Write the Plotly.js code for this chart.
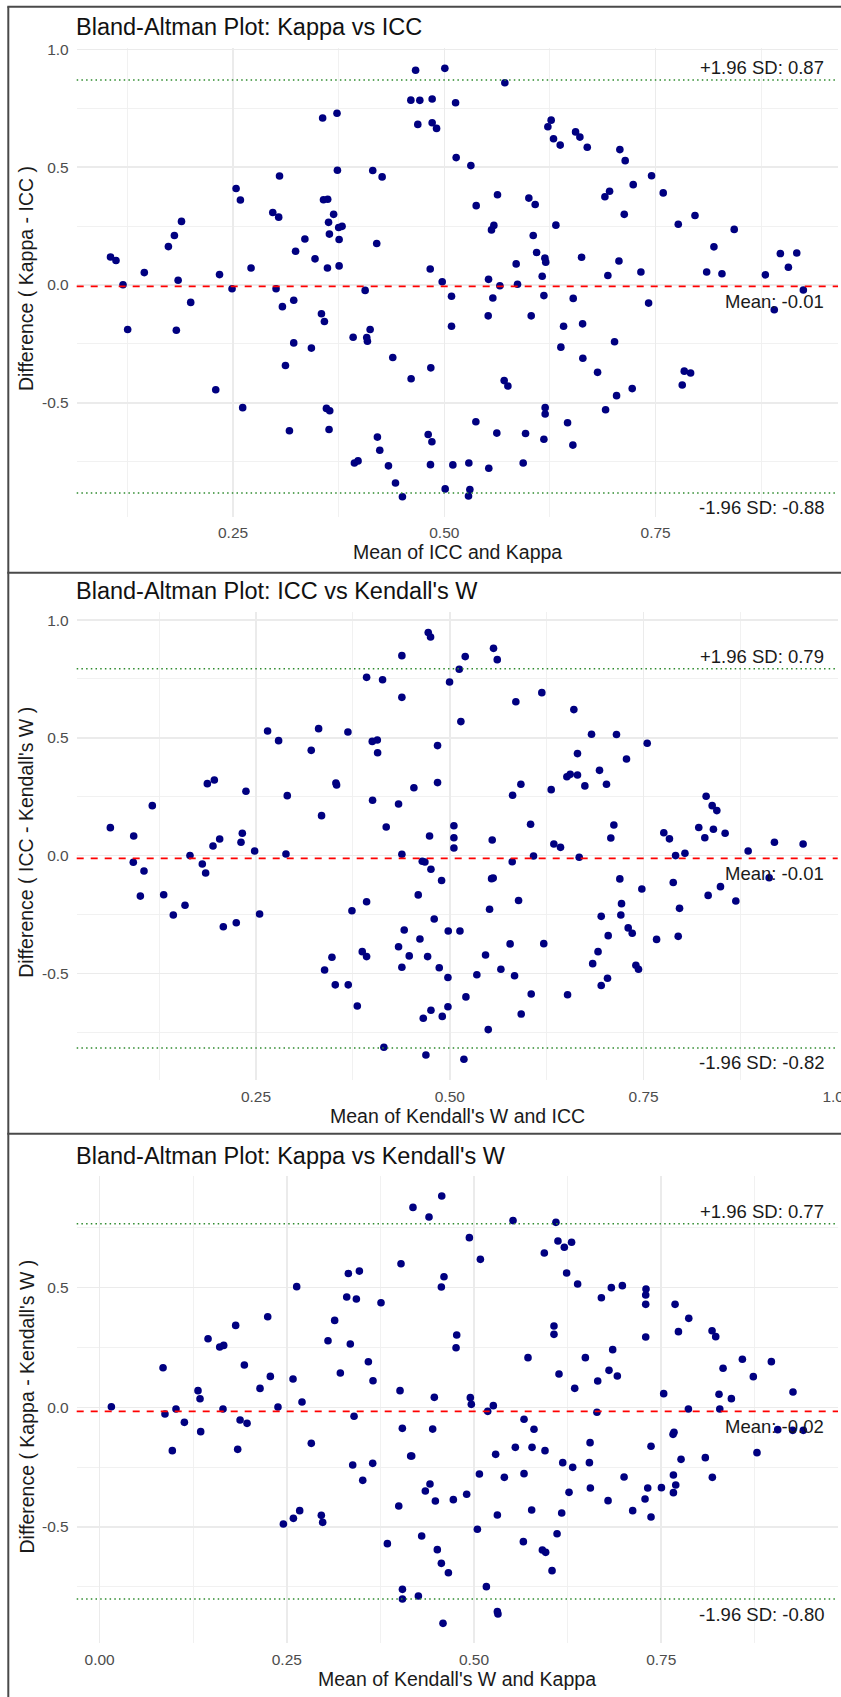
<!DOCTYPE html>
<html><head><meta charset="utf-8">
<script src="https://cdn.plot.ly/plotly-3.0.1.min.js"></script>
<style>html,body{margin:0;padding:0;background:#fff;}#chart{width:841px;height:1697px;}</style>
</head><body><div id="chart"></div>
<script>
// ---------- data ----------
const p1Mean = [0.105,0.1115,0.145,0.1735,0.1806,0.189,0.185,0.234,0.2536,0.2587,0.2713,0.297,0.304,0.305,0.324,0.335,0.347,0.356,0.357,0.362,0.369,0.363,0.375,0.379,0.364,0.3755,0.3617,0.3755,0.373,0.3735,0.4153,0.4264,0.420,
0.466,0.5006,0.5716,0.4604,0.471,0.4856,0.5133,0.4686,0.4856,0.4908,0.514,0.5314,0.5377,0.5629,0.5558,0.5586,0.4833,0.4975,0.5523,0.5657,0.5866,0.585,0.600,0.6075,0.6052,0.6092,0.619,0.620,0.6158,0.6225,0.6264,0.6292,0.6371,0.632,0.6553,0.6604,0.6691,0.6624,0.690,0.6955,0.6935,0.7077,0.714,0.7129,0.7066,0.7235,0.7326,0.7452,0.759,0.7768,0.7966,0.8104,0.819,0.8285,0.843,0.8798,0.8976,0.9071,0.917,0.9248,
0.5085,0.5085,0.5574,0.5519,0.6178,0.6028,0.6525,0.6411,0.6636,0.6379,0.6639,0.7014,0.6813,0.7417,0.7038,0.7223,0.6908,0.7839,0.7914,0.7815,0.8904,0.484,0.4607,0.5708,0.5752,0.6193,0.6193,0.5373,0.6458,0.4809,0.4853,0.5621,0.5961,0.6178,0.6521,0.4836,0.5101,0.529,0.5526,0.5933,0.501,0.5302,0.5286,
0.1198,0.1253,0.1999,0.1829,0.2488,0.3009,0.3084,0.3218,0.2295,0.2614,0.3546,0.3581,0.3218,0.3427,0.312,0.3167,0.3605,0.3644,0.3636,0.4063,0.3921,0.4122,0.4082,0.409,0.439,0.4208,0.4236,0.3936,0.3979,0.4339,0.4422,0.4504];
const p1Diff = [0.119,0.104,0.0525,0.163,0.210,0.270,0.020,0.044,0.410,0.361,0.072,0.308,0.288,0.463,0.143,0.195,0.111,0.709,0.362,0.364,0.300,0.266,0.244,0.249,0.216,0.193,0.072,0.081,0.729,0.487,0.486,0.459,0.176,
0.912,0.920,0.859,0.785,0.784,0.790,0.774,0.682,0.689,0.665,0.541,0.507,0.337,0.383,0.234,0.253,0.068,0.014,0.024,-0.003,0.003,0.0895,0.369,0.342,0.210,0.138,0.114,0.097,0.037,0.672,0.700,0.621,0.594,0.254,0.650,0.628,0.585,0.118,0.375,0.398,0.040,0.575,0.528,0.300,0.102,0.426,0.055,0.464,0.391,0.258,0.295,0.055,0.162,0.048,0.236,0.043,0.1335,0.075,0.136,-0.021,
-0.048,-0.175,-0.055,-0.131,-0.045,-0.131,-0.057,-0.175,-0.165,-0.264,-0.311,-0.241,-0.371,-0.077,-0.470,-0.440,-0.530,-0.366,-0.374,-0.425,-0.105,-0.352,-0.398,-0.406,-0.429,-0.521,-0.548,-0.581,-0.585,-0.635,-0.666,-0.629,-0.631,-0.655,-0.680,-0.763,-0.764,-0.756,-0.778,-0.756,-0.866,-0.869,-0.896,
0.001,-0.189,-0.074,-0.192,-0.016,-0.016,-0.092,-0.065,-0.445,-0.521,-0.122,-0.155,-0.246,-0.268,-0.342,-0.619,-0.524,-0.534,-0.614,-0.023,-0.222,-0.189,-0.223,-0.239,-0.308,-0.646,-0.702,-0.756,-0.747,-0.768,-0.841,-0.899];

const p2Mean = [0.0622,0.0923,0.1163,0.1873,0.1963,0.1946,0.2032,0.2324,0.2307,0.2371,0.265,0.2792,0.2904,0.3213,0.3308,0.3346,0.3531,0.354,0.3686,0.3927,0.4133,0.4382,0.4382,0.400,0.4065,0.4069,0.4004,0.4339,0.418,
0.4722,0.4752,0.5564,0.5612,0.5199,0.5122,0.4997,0.5143,0.4842,0.4842,0.4537,0.5852,0.6187,0.660,0.6828,0.715,0.7546,0.6647,0.7279,0.6931,0.651,0.6553,0.6647,0.6742,0.7021,0.6308,0.5917,0.581,0.6042,0.6342,0.6428,0.5053,0.5053,0.5053,0.4739,0.5547,0.7116,0.7077,0.776,0.7833,0.8306,0.8384,0.8444,0.8211,0.840,0.8289,0.8551,0.9187,0.9557,
0.4645,0.4679,0.4757,0.4894,0.4593,0.4799,0.4615,0.4714,0.4864,0.498,0.5131,0.4976,0.4658,0.4757,0.4903,0.4976,0.4692,0.5182,0.5539,0.556,0.5513,0.5805,0.5887,0.608,0.6669,0.5778,0.6212,0.5461,0.5659,0.5835,0.5349,0.5208,0.605,0.5921,0.5496,0.6519,0.7193,0.7477,0.7215,0.7206,0.6953,0.7043,0.7301,0.7353,0.7667,0.7946,0.7963,0.7882,0.7912,0.8033,0.6912,0.6843,0.740,0.7434,0.7034,0.6953,0.8332,0.8491,0.8689,0.8848,0.9119,
0.1649,0.2483,0.2887,0.4382,0.0918,0.1056,0.1009,0.131,0.1434,0.1585,0.1808,0.1851,0.2079,0.2246,0.2547,0.3385,0.348,0.3523,0.369,0.3807,0.3738,0.3927,0.3871,0.3927,0.415,0.4339,0.4412,0.4382,0.4477];
const p2Diff = [0.1186,0.0832,0.212,0.3055,0.321,0.041,0.0705,0.0946,0.0564,0.273,0.529,0.488,0.2545,0.447,0.539,0.1695,0.308,0.300,0.525,0.757,0.747,0.849,0.672,0.485,0.491,0.437,0.235,0.219,0.1215,
0.947,0.928,0.880,0.832,0.845,0.791,0.737,0.569,0.467,0.310,0.288,0.653,0.692,0.620,0.515,0.514,0.477,0.433,0.410,0.362,0.335,0.345,0.342,0.296,0.303,0.280,0.303,0.256,0.133,0.049,0.035,0.127,0.076,0.032,0.083,0.066,0.130,0.075,0.097,0.071,0.252,0.212,0.191,0.119,0.112,0.076,0.095,0.0564,0.049,
-0.024,-0.027,-0.058,-0.106,-0.167,-0.269,-0.354,-0.429,-0.476,-0.320,-0.320,-0.518,-0.691,-0.657,-0.683,-0.642,-0.847,-0.865,-0.098,-0.095,-0.228,-0.026,-0.191,-0.002,-0.007,-0.375,-0.374,-0.422,-0.483,-0.510,-0.506,-0.600,-0.588,-0.673,-0.739,-0.591,-0.099,-0.142,-0.204,-0.252,-0.258,-0.340,-0.307,-0.330,-0.356,-0.343,-0.224,-0.114,0.000,0.010,-0.408,-0.459,-0.466,-0.483,-0.521,-0.552,-0.169,-0.132,-0.193,0.0195,-0.094,
0.000,0.0195,0.0068,0.0054,-0.0286,-0.0654,-0.172,-0.166,-0.252,-0.211,-0.0357,-0.074,-0.302,-0.285,-0.248,-0.486,-0.432,-0.549,-0.549,-0.639,-0.234,-0.196,-0.408,-0.429,-0.814,-0.387,-0.316,-0.474,-0.426];

const p3Mean = [0.0157,0.0847,0.102,0.1314,0.1341,0.1448,0.1604,0.1657,0.1648,0.1817,0.1933,0.2142,0.2245,0.228,0.2382,0.2583,0.2632,0.2703,0.305,0.3139,0.3215,0.33,0.3429,0.3322,0.3469,0.3348,0.3589,0.3651,0.3758,0.4025,0.4012,
0.4185,0.4399,0.4569,0.4938,0.5085,0.5521,0.6094,0.6121,0.6206,0.6303,0.5939,0.6237,0.6384,0.6701,0.6834,0.6981,0.7297,0.7293,0.7293,0.7685,0.7868,0.773,0.8179,0.8228,0.7293,0.4599,0.4564,0.4769,0.476,0.6068,0.6068,0.5721,0.6487,0.6852,0.6803,0.6914,0.6135,0.6345,0.6652,0.7533,0.8326,0.8584,0.873,0.8971,0.926,0.8272,0.8437,0.447,0.4951,0.4964,0.5258,0.5183,0.6642,0.7863,0.8282,
0.5668,0.5801,0.4448,0.4168,0.5289,0.5552,0.5775,0.5948,0.6185,0.6318,0.655,0.6541,0.5072,0.5405,0.5668,0.4412,0.435,0.4484,0.4724,0.4902,0.6269,0.6554,0.679,0.7004,0.732,0.7503,0.7284,0.7119,0.7364,0.7658,0.7671,0.7364,0.7765,0.7663,0.7694,0.7663,0.8089,0.8183,0.8779,0.9056,0.9256,0.9398,0.5312,0.577,0.6171,0.4301,0.5045,0.5659,0.451,0.5913,0.5957,0.6109,0.4564,0.4658,0.6042,0.5165,0.4257,0.5312,0.532,0.4586,
0.0873,0.1132,0.135,0.0971,0.1876,0.1969,0.1844,0.2827,0.2454,0.2588,0.2672,0.2961,0.2979,0.3398,0.338,0.3647,0.3514,0.3843,0.4043,0.4154,0.3995,0.4044,0.4044];
const p3Diff = [0.0026,0.1655,-0.007,0.0695,0.036,0.2866,0.2517,0.2586,-0.007,0.342,0.1766,0.079,0.378,0.129,0.0013,0.118,0.504,0.022,0.278,0.363,0.1433,0.4607,0.4523,0.559,0.569,0.2645,0.1905,0.111,0.4369,0.5997,0.0695,
0.835,0.7946,0.8823,0.7086,0.618,0.7799,0.7726,0.6946,0.6683,0.6892,0.6445,0.5608,0.5148,0.4578,0.4997,0.5081,0.4942,0.469,0.430,0.430,0.3716,0.3159,0.32,0.295,0.2935,0.5456,0.5025,0.302,0.249,0.3395,0.3047,0.2073,0.2073,0.2407,0.1544,0.1307,0.1391,0.0792,0.1098,0.057,0.1628,0.2004,0.128,0.1906,0.0639,0.0542,0.0361,0.0416,0.0403,0.0124,0.0068,-0.017,-0.021,-0.007,-0.007,
-0.05,-0.092,-0.091,-0.2034,-0.1965,-0.1672,-0.1672,-0.1811,-0.2313,-0.2508,-0.1477,-0.2313,-0.2786,-0.2926,-0.2772,-0.3204,-0.3496,-0.3914,-0.3858,-0.3635,-0.3552,-0.3371,-0.39,-0.2912,-0.3371,-0.3357,-0.383,-0.4318,-0.4582,-0.1129,-0.1046,-0.163,-0.2174,-0.2828,-0.3246,-0.3566,-0.2104,-0.2926,-0.1895,-0.0934,-0.0962,-0.0962,-0.4499,-0.429,-0.4415,-0.5376,-0.5097,-0.5613,-0.5947,-0.5961,-0.6058,-0.5279,-0.6518,-0.6908,-0.6824,-0.7492,-0.7882,-0.8537,-0.8634,-0.9024,
-0.028,-0.0628,-0.1018,-0.181,-0.053,-0.067,-0.1756,-0.1505,-0.4875,-0.4638,-0.4318,-0.4513,-0.4805,-0.0377,-0.241,-0.2341,-0.3051,-0.5696,-0.0879,-0.2034,-0.4123,-0.7604,-0.8007];

// mean difference, upper limit (+1.96 SD), lower limit (-1.96 SD)
const p1Limits = [-0.006, 0.871, -0.883];
const p2Limits = [-0.012, 0.793, -0.817];
const p3Limits = [-0.017, 0.767, -0.801];

const panelTitles = ["Bland-Altman Plot: Kappa vs ICC", "Bland-Altman Plot: ICC vs Kendall's W", "Bland-Altman Plot: Kappa vs Kendall's W"];
const xTitles = ["Mean of ICC and Kappa", "Mean of Kendall's W and ICC", "Mean of Kendall's W and Kappa"];
const yTitles = ["Difference ( Kappa - ICC )", "Difference ( ICC - Kendall's W )", "Difference ( Kappa - Kendall's W )"];

const xTickVals = [0, 0.25, 0.5, 0.75, 1];
const xTickText = ["0.00", "0.25", "0.50", "0.75", "1.00"];
const xMinorVals = [0.125, 0.375, 0.625, 0.875];
const yTickVals = [-1, -0.5, 0, 0.5, 1];
const yTickText = ["-1.0", "-0.5", "0.0", "0.5", "1.0"];
const yMinorVals = [-0.75, -0.25, 0.25, 0.75];

// ---------- layout ----------
const W = 841, H = 1697;
const FONT = "Liberation Sans, Arial, Helvetica, sans-serif";
const boxes = [
  {l: 76.7, r: 838, t: 47.5, b: 516.7, xr: [0.0650, 0.9658], yr: [-0.984, 1.0085], titleY: 27.2, xTitleY: 552.5},
  {l: 76.7, r: 837.7, t: 611.7, b: 1080, xr: [0.0188, 1.0003], yr: [-0.953, 1.0357], titleY: 590.7, xTitleY: 1115.8},
  {l: 76.7, r: 838, t: 1175.7, b: 1643.3, xr: [-0.0306, 0.9861], yr: [-0.9858, 0.9674], titleY: 1155.8, xTitleY: 1679}
];
const series = [[p1Mean, p1Diff, p1Limits], [p2Mean, p2Diff, p2Limits], [p3Mean, p3Diff, p3Limits]];

const data = [];
const layout = {
  width: W, height: H, margin: {l: 0, r: 0, t: 0, b: 0},
  paper_bgcolor: '#ffffff', plot_bgcolor: '#ffffff', showlegend: false,
  font: {family: FONT, color: '#1a1a1a'},
  shapes: [], annotations: []
};

boxes.forEach((b, i) => {
  const sfx = i === 0 ? '' : String(i + 1);
  const [mx, dy, lim] = series[i];
  data.push({
    type: 'scatter', mode: 'markers', x: mx, y: dy,
    xaxis: 'x' + sfx, yaxis: 'y' + sfx,
    marker: {color: '#000080', size: 7.6, line: {width: 0}},
    hoverinfo: 'skip'
  });
  layout['xaxis' + sfx] = {
    domain: [b.l / W, b.r / W], range: b.xr, anchor: 'y' + sfx,
    tickmode: 'array', tickvals: xTickVals, ticktext: xTickText,
    showgrid: true, gridcolor: '#ebebeb', gridwidth: 1.6,
    zeroline: false, showline: false, ticks: '',
    ticklabelstandoff: 5, ticklabeloverflow: 'allow',
    tickfont: {family: FONT, size: 15.5, color: '#4d4d4d'},
    minor: {tickmode: 'array', tickvals: xMinorVals, showgrid: true, gridcolor: '#f0f0f0', gridwidth: 0.9, ticks: ''},
    fixedrange: true
  };
  layout['yaxis' + sfx] = {
    domain: [1 - b.b / H, 1 - b.t / H], range: b.yr, anchor: 'x' + sfx,
    tickmode: 'array', tickvals: yTickVals, ticktext: yTickText,
    showgrid: true, gridcolor: '#ebebeb', gridwidth: 1.6,
    zeroline: false, showline: false, ticks: '',
    ticklabelstandoff: 7,
    tickfont: {family: FONT, size: 15.5, color: '#4d4d4d'},
    minor: {tickmode: 'array', tickvals: yMinorVals, showgrid: true, gridcolor: '#f0f0f0', gridwidth: 0.9, ticks: ''},
    fixedrange: true
  };
  const xd = 'x' + sfx + ' domain', yr = 'y' + sfx;
  // mean line
  layout.shapes.push({type: 'line', xref: xd, yref: yr, x0: 0, x1: 1, y0: lim[0], y1: lim[0],
    line: {color: '#ff0000', width: 1.8, dash: '7px,7px'}});
  // limits of agreement
  [lim[1], lim[2]].forEach(v => layout.shapes.push({type: 'line', xref: xd, yref: yr, x0: 0, x1: 1, y0: v, y1: v,
    line: {color: '#2e8b2e', width: 1.5, dash: '1.5px,3.2px'}}));
  // limit labels
  const labFont = {family: FONT, size: 18.5, color: '#1a1a1a'};
  layout.annotations.push(
    {xref: xd, yref: yr, x: 1, y: lim[1], xanchor: 'right', yanchor: 'middle', xshift: -12, yshift: 12,
     text: '+1.96 SD: ' + lim[1].toFixed(2), showarrow: false, font: labFont},
    {xref: xd, yref: yr, x: 1, y: lim[0], xanchor: 'right', yanchor: 'middle', xshift: -12, yshift: -15,
     text: 'Mean: ' + lim[0].toFixed(2), showarrow: false, font: labFont},
    {xref: xd, yref: yr, x: 1, y: lim[2], xanchor: 'right', yanchor: 'middle', xshift: -12, yshift: -15,
     text: '-1.96 SD: ' + lim[2].toFixed(2), showarrow: false, font: labFont}
  );
  // titles
  layout.annotations.push(
    {xref: 'paper', yref: 'paper', x: 74 / W, y: 1 - b.titleY / H, xanchor: 'left', yanchor: 'middle',
     text: panelTitles[i], showarrow: false, font: {family: FONT, size: 23.5, color: '#111111'}},
    {xref: 'paper', yref: 'paper', x: ((b.l + b.r) / 2) / W, y: 1 - b.xTitleY / H, xanchor: 'center', yanchor: 'middle',
     text: xTitles[i], showarrow: false, font: {family: FONT, size: 19.5, color: '#1a1a1a'}},
    {xref: 'paper', yref: 'paper', x: 26 / W, y: 1 - ((b.t + b.b) / 2 - 3) / H, xanchor: 'center', yanchor: 'middle',
     textangle: -90, text: yTitles[i], showarrow: false, font: {family: FONT, size: 19.5, color: '#1a1a1a'}}
  );
});

// panel frames
const frameLine = {color: '#4a4a4a', width: 2};
[6.7, 572.7, 1133.7].forEach(py => layout.shapes.push({type: 'line', xref: 'paper', yref: 'paper',
  x0: 7.3 / W, x1: 1, y0: 1 - py / H, y1: 1 - py / H, line: frameLine}));
layout.shapes.push({type: 'line', xref: 'paper', yref: 'paper', x0: 8.3 / W, x1: 8.3 / W, y0: 0, y1: 1 - 6.7 / H, line: frameLine});

Plotly.newPlot('chart', data, layout, {displayModeBar: false, staticPlot: true});
</script>
</body></html>
